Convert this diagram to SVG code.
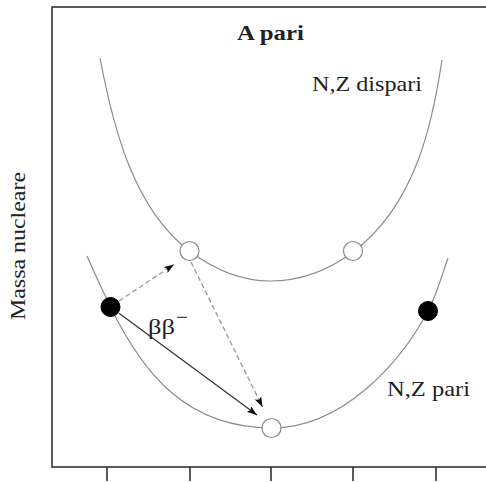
<svg xmlns="http://www.w3.org/2000/svg" width="486" height="482" viewBox="0 0 486 482">
  <style>
    .frame { fill: none; stroke: #333; stroke-width: 1.6; }
    .tick { stroke: #333; stroke-width: 1.6; }
    .curve { fill: none; stroke: #8c8c8c; stroke-width: 1.2; }
    .open { fill: #fff; stroke: #8c8c8c; stroke-width: 1.2; }
    .full { fill: #000; stroke: #000; stroke-width: 1; }
    .dash { fill: none; stroke: #999; stroke-width: 1.3; stroke-dasharray: 5 3; }
    .solid { fill: none; stroke: #333; stroke-width: 1.2; }
    .lbl { font-family: "Liberation Serif", "Times New Roman", serif; font-size: 21px; fill: #222; }
    .title { font-weight: bold; }
  </style>
  <defs>
    <marker id="ah" markerUnits="userSpaceOnUse" markerWidth="11" markerHeight="7" refX="10" refY="3.5" orient="auto">
      <path d="M0,0 L10,3.5 L0,7 L2,3.5 z" fill="#111"/>
    </marker>
  </defs>

  <g id="axes">
    <rect class="frame" x="52" y="7" width="460" height="460"/>
    <line class="tick" x1="107" y1="467" x2="107" y2="481"/>
    <line class="tick" x1="190" y1="467" x2="190" y2="481"/>
    <line class="tick" x1="271" y1="467" x2="271" y2="481"/>
    <line class="tick" x1="353" y1="467" x2="353" y2="481"/>
    <line class="tick" x1="436" y1="467" x2="436" y2="481"/>
    <text class="lbl" transform="translate(25,246) rotate(-90)" text-anchor="middle" textLength="148" lengthAdjust="spacingAndGlyphs">Massa nucleare</text>
  </g>

  <g id="title">
    <text class="lbl title" x="237" y="40" textLength="67" lengthAdjust="spacingAndGlyphs">A pari</text>
  </g>

  <g id="curve-dispari">
    <path class="curve" d="M100,58 C113,126.8 133.5,209 189.5,251 C213.5,269 240,281 270,281 C300,281 329,270 353,252 C417,204 433,119.4 442,60"/>
    <text class="lbl" x="312" y="91" textLength="110" lengthAdjust="spacingAndGlyphs">N,Z dispari</text>
  </g>

  <g id="curve-pari">
    <path class="curve" d="M87,256 C94.2,272.6 102.6,290.8 110.5,307 C143.5,374.5 187,428 272,428 C342,428 399.8,363.8 428,311 C436.5,295.2 442,275.2 448,258"/>
    <text class="lbl" x="387" y="396" textLength="83" lengthAdjust="spacingAndGlyphs">N,Z pari</text>
  </g>

  <g id="connectors">
    <line class="dash" x1="119" y1="301" x2="174" y2="264.5" marker-end="url(#ah)"/>
    <line class="dash" x1="191" y1="262" x2="262.5" y2="407" marker-end="url(#ah)"/>
    <line class="solid" x1="119" y1="313.3" x2="257" y2="415" marker-end="url(#ah)"/>
    <text class="lbl" x="148" y="334" textLength="27" lengthAdjust="spacingAndGlyphs">ββ</text>
    <text class="lbl" x="176" y="324" font-size="18" textLength="12" lengthAdjust="spacingAndGlyphs">−</text>
  </g>

  <g id="node-a"><circle class="full" cx="110.5" cy="307" r="9.5"/></g>
  <g id="node-b"><circle class="open" cx="189.5" cy="251" r="9.5"/></g>
  <g id="node-c"><circle class="open" cx="271.5" cy="428" r="9.5"/></g>
  <g id="node-d"><circle class="open" cx="353" cy="251" r="9.5"/></g>
  <g id="node-e"><circle class="full" cx="428" cy="311" r="9.5"/></g>
</svg>
